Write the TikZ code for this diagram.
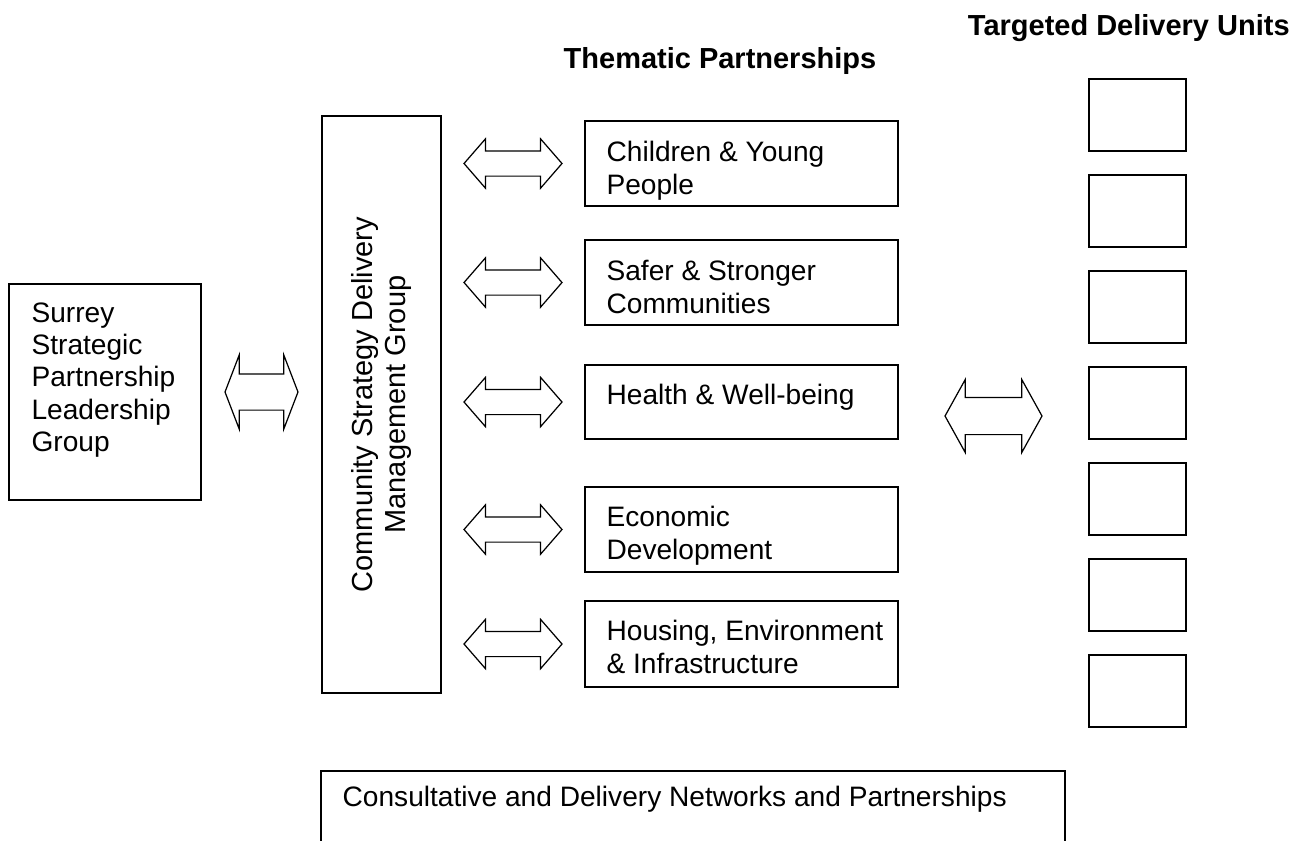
\documentclass[tikz,border=0pt]{standalone}
\usepackage{fontspec}
\setmainfont{Liberation Sans}
\usetikzlibrary{positioning}
\usetikzlibrary{calc}
\usetikzlibrary{shapes.arrows}
\tikzset{
    box/.style={draw, line width=0.9pt, inner sep=0pt},
    txt/.style={anchor=north west, align=left, inner sep=0pt, font=\fontsize{16}{18.4}\selectfont},
    head/.style={inner sep=0pt, font=\fontsize{16.5}{19}\selectfont\bfseries},
    twoway/.style={draw, line width=0.7pt, double arrow, inner xsep=0pt},
    theme/.style={box, minimum width=6.26cm},
    unit/.style={box, minimum width=1.94cm, minimum height=1.44cm},
}

\begin{document}
\begin{tikzpicture}[x=0.02cm, y=-0.02cm]
    \useasboundingbox (0,0) rectangle (1298,840);

    \node (thead) at (720,68) [head, anchor=base] {Thematic Partnerships};
    \node (uhead) at (1290,35) [head, anchor=base east] {Targeted Delivery Units};

    % leadership group and the management group
    \node (ssp) at (105,392) [box, minimum width=3.84cm, minimum height=4.32cm] {};
    \node (ssptext) [txt] at ($(ssp.north west)+(23,19)$) {Surrey\\Strategic\\Partnership\\Leadership\\Group};
    \node (csd) at (381.5,404.5) [box, minimum width=2.38cm, minimum height=11.54cm] {};
    \node (csdtext) at (csd.center) [rotate=90, align=center, inner sep=0pt, font=\fontsize{16.5}{19}\selectfont] {Community Strategy Delivery\\Management Group};
    \node (a0) [twoway, minimum height=1.46cm, inner ysep=0.35cm, double arrow head extend=0.38cm, double arrow tip angle=138]
        at ($(ssp.east)!0.5!(ssp.east -| csd.west)$) {};

    % thematic partnerships
    \node (tp1) at (741.5,163.5) [theme, minimum height=1.7cm] {};
    \node (tp2) at (741.5,282.5) [theme, minimum height=1.7cm] {};
    \node (tp3) at (741.5,402) [theme, minimum height=1.48cm] {};
    \node (tp4) at (741.5,529.5) [theme, minimum height=1.7cm] {};
    \node (tp5) at (741.5,644) [theme, minimum height=1.72cm] {};
    \node (tp1text) [txt] at ($(tp1.north west)+(22,21)$) {Children \& Young\\People};
    \node (tp2text) [txt] at ($(tp2.north west)+(22,21)$) {Safer \& Stronger\\Communities};
    \node (tp3text) [txt] at ($(tp3.north west)+(22,20)$) {Health \& Well-being};
    \node (tp4text) [txt] at ($(tp4.north west)+(22,20)$) {Economic\\Development};
    \node (tp5text) [txt] at ($(tp5.north west)+(22,20)$) {Housing, Environment\\\& Infrastructure};
    \foreach \i in {1,...,5}
        \node (a\i) [twoway, minimum height=1.96cm, inner ysep=0.24cm, double arrow head extend=0.24cm, double arrow tip angle=98]
            at ($(csd.east |- tp\i)!0.5!(tp\i.west)$) {};

    % delivery units
    \foreach \i in {1,...,7}
        \node (tdu\i) [unit] at (1137.5,19+96*\i) {};
    \node (a6) [twoway, minimum height=1.94cm, inner ysep=0.36cm, double arrow head extend=0.36cm, double arrow tip angle=122]
        at (993.5,416) {};

    % networks along the bottom
    \node (cdn) at (693,808) [box, minimum width=14.88cm, minimum height=1.48cm] {};
    \node (cdntext) [txt] at ($(cdn.north west)+(22,16)$) {Consultative and Delivery Networks and Partnerships};
\end{tikzpicture}
\end{document}
